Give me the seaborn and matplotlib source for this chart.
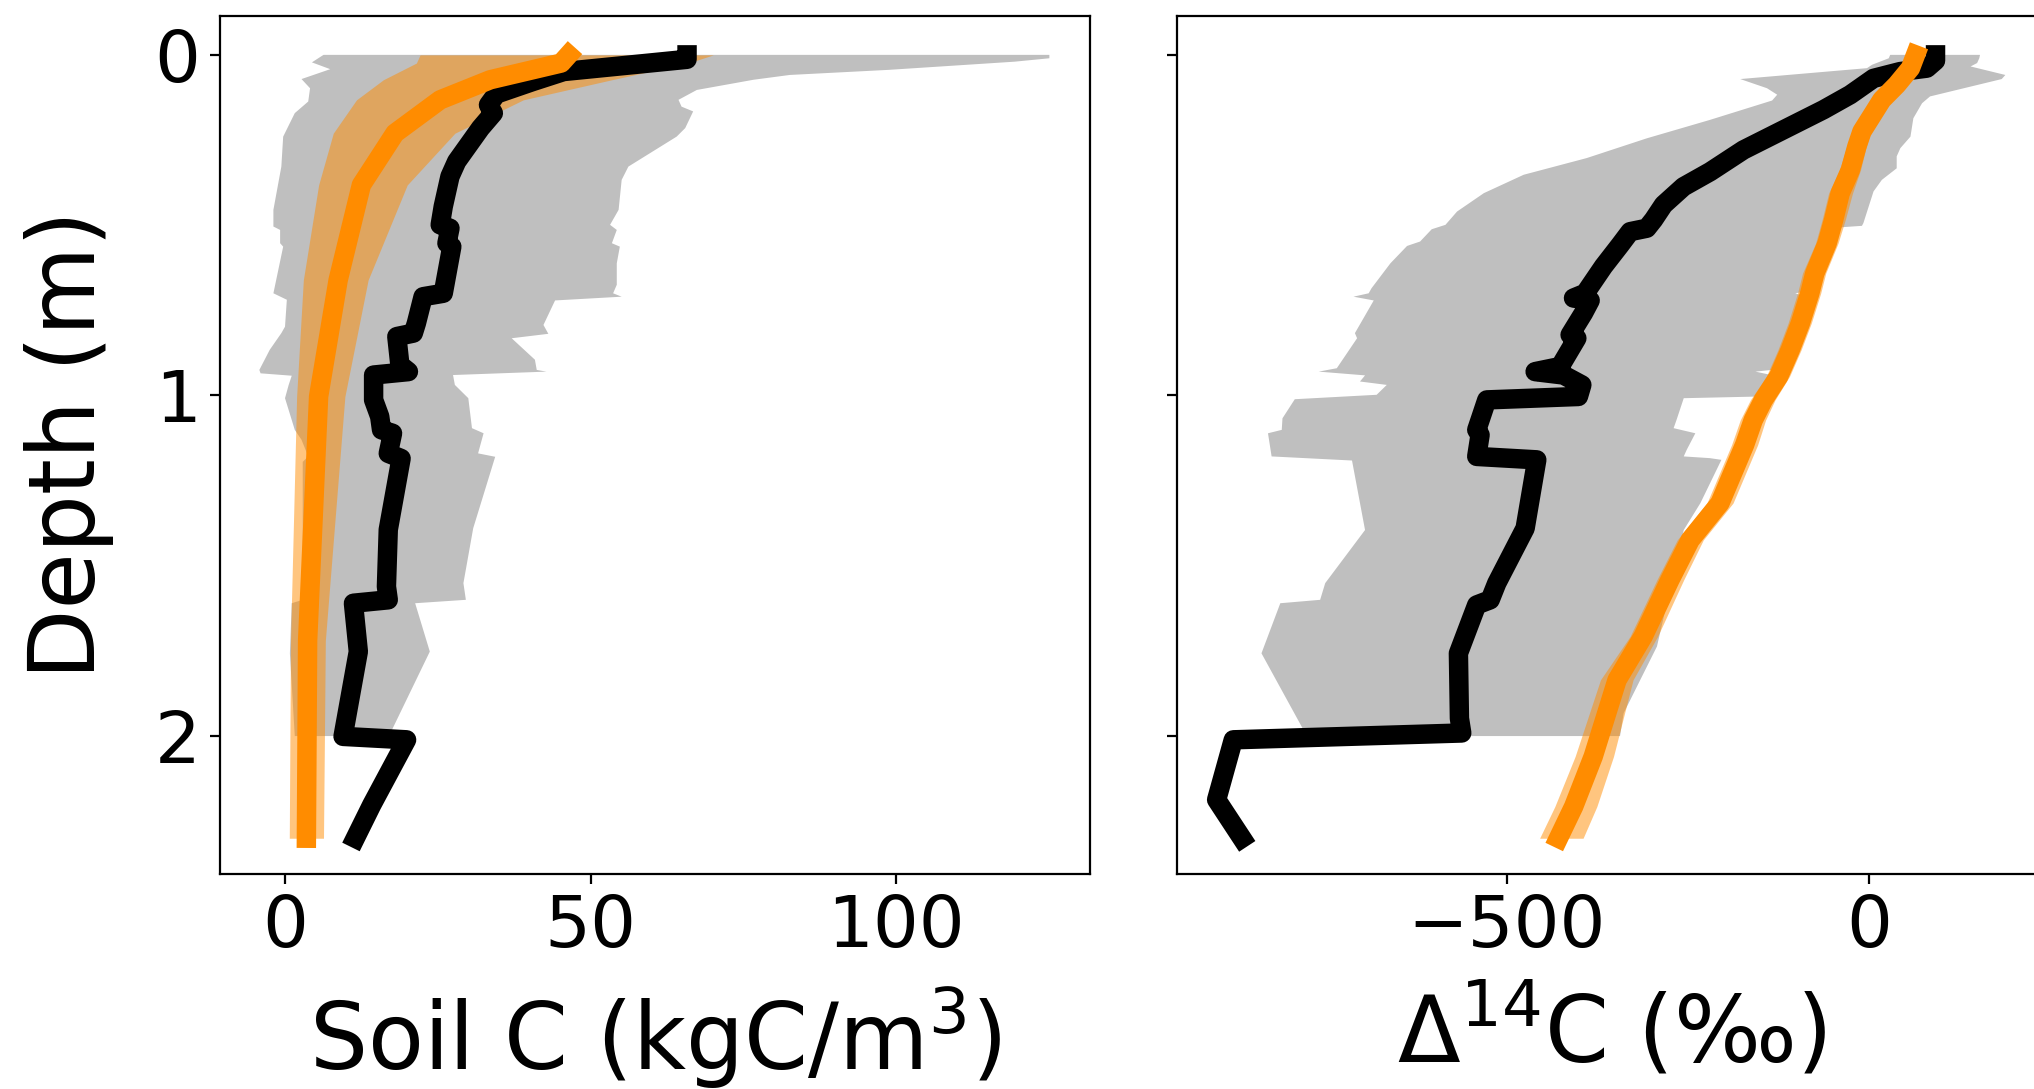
import numpy as np
import matplotlib
matplotlib.use("Agg")
import matplotlib.pyplot as plt
import seaborn as sns

# ------------------------------------------------------------------
# Soil carbon density profile (kgC/m3): (depth m, value)
# ------------------------------------------------------------------
soc_obs_lower = [
    (0.0, 6.3), (0.022, 4.4), (0.042, 7.4), (0.071, 2.7), (0.098, 4.1),
    (0.137, 3.8), (0.171, 1.6), (0.240, -0.3), (0.328, -0.6), (0.455, -1.9),
    (0.504, -1.9), (0.514, -0.8), (0.553, -0.8), (0.563, -0.3), (0.700, -1.9),
    (0.719, 0.3), (0.798, 0.0), (0.817, -0.6), (0.866, -2.5), (0.925, -4.2),
    (0.935, -4.0), (0.942, 1.1), (0.969, 0.6), (1.008, 0.0), (1.101, 1.6),
    (1.130, 2.7), (1.179, 3.8), (1.195, 2.9), (1.600, 2.9), (1.610, 1.1),
    (1.757, 0.8), (2.0, 1.6),
]
soc_obs_upper = [
    (0.0, 125.1), (0.010, 125.1), (0.020, 119.4), (0.044, 98.8), (0.059, 82.6),
    (0.073, 76.7), (0.103, 67.4), (0.132, 64.4), (0.152, 64.9), (0.166, 66.8),
    (0.215, 65.5), (0.240, 64.1), (0.328, 56.2), (0.367, 55.1), (0.455, 54.6),
    (0.499, 53.2), (0.514, 54.3), (0.553, 53.5), (0.563, 54.8), (0.612, 54.3),
    (0.675, 54.3), (0.700, 53.7), (0.710, 55.1), (0.721, 44.2), (0.793, 42.3),
    (0.819, 43.1), (0.832, 37.1), (0.895, 40.9), (0.925, 41.2), (0.930, 42.8),
    (0.940, 27.5), (0.969, 27.8), (1.008, 30.0), (1.096, 30.6), (1.111, 32.5),
    (1.170, 31.6), (1.180, 34.4), (1.390, 30.8), (1.551, 29.2), (1.600, 29.6),
    (1.610, 21.3), (1.752, 23.7), (1.982, 17.5), (2.0, 17.7),
]
soc_obs_mean = [
    (0.0, 65.8), (0.013, 65.8), (0.049, 45.6), (0.078, 40.6), (0.115, 34.6),
    (0.147, 33.3), (0.171, 34.1), (0.215, 32.0), (0.313, 28.1), (0.357, 27.0),
    (0.445, 25.9), (0.499, 25.4), (0.509, 27.0), (0.553, 26.5), (0.563, 27.3),
    (0.700, 25.9), (0.710, 22.6), (0.788, 21.5), (0.817, 21.0), (0.827, 18.3),
    (0.910, 18.8), (0.930, 20.2), (0.940, 14.5), (1.013, 14.5), (1.062, 15.5),
    (1.101, 15.8), (1.111, 17.6), (1.170, 16.9), (1.185, 19.0), (1.394, 16.9),
    (1.561, 16.6), (1.600, 16.9), (1.610, 11.2), (1.752, 12.0), (2.001, 9.5),
    (2.011, 19.9), (2.202, 14.2), (2.300, 11.5),
]
soc_mod_depth = [0.0, 0.024, 0.073, 0.132, 0.230, 0.382, 0.661, 1.003, 1.720, 2.300]
soc_mod_mean = [46.4, 45.2, 33.6, 25.4, 18.0, 12.5, 8.7, 5.5, 3.7, 3.5]
soc_mod_lower = [22.1, 21.5, 16.1, 11.7, 7.9, 5.5, 3.0, 1.9, 0.9, 0.7]
soc_mod_upper = [70.1, 66.0, 53.5, 39.0, 27.8, 20.0, 13.6, 9.8, 6.6, 6.3]

# ------------------------------------------------------------------
# Radiocarbon profile (per mil): (depth m, value)
# ------------------------------------------------------------------
c14_obs_lower = [
    (0.0, 29), (0.010, 27), (0.029, 4), (0.039, -3), (0.071, -178),
    (0.098, -141), (0.117, -127), (0.134, -134), (0.191, -220), (0.245, -307),
    (0.303, -390), (0.352, -477), (0.406, -532), (0.460, -569), (0.499, -585),
    (0.512, -604), (0.548, -620), (0.561, -638), (0.612, -661), (0.685, -687),
    (0.700, -691), (0.710, -712), (0.721, -684), (0.817, -710), (0.832, -707),
    (0.920, -735), (0.930, -760), (0.941, -696), (0.959, -703), (0.969, -666),
    (0.998, -680), (1.011, -793), (1.067, -810), (1.101, -811), (1.111, -830),
    (1.179, -825), (1.191, -714), (1.395, -696), (1.551, -751), (1.600, -758),
    (1.610, -813), (1.757, -839), (1.982, -781), (2.0, -779),
]
c14_obs_upper = [
    (0.0, 153), (0.010, 152), (0.024, 149), (0.034, 140), (0.059, 188),
    (0.071, 183), (0.122, 84), (0.142, 73), (0.186, 61), (0.240, 57),
    (0.274, 43), (0.298, 38), (0.333, 38), (0.367, 17.5), (0.401, 6),
    (0.494, -8), (0.502, -10), (0.506, -38), (0.600, -62), (0.695, -88),
    (0.700, -102), (0.710, -88), (0.800, -108), (0.925, -135), (0.930, -157),
    (0.940, -135), (1.003, -150), (1.008, -256), (1.072, -266), (1.096, -270),
    (1.111, -240), (1.160, -252), (1.179, -256), (1.184, -220), (1.189, -204),
    (1.316, -233), (1.395, -256), (1.737, -293), (1.933, -339), (2.0, -344),
]
c14_obs_mean = [
    (0.0, 91.6), (0.017, 91.6), (0.039, 79.7), (0.049, 42.8), (0.069, 6.0),
    (0.093, -10.1), (0.117, -26.2), (0.161, -63.1), (0.220, -118.3),
    (0.279, -173.5), (0.343, -219.5), (0.387, -256.3), (0.440, -283.9),
    (0.484, -297.7), (0.509, -307.0), (0.519, -330.0), (0.558, -343.8),
    (0.621, -366.8), (0.700, -392.1), (0.714, -408.2), (0.721, -385.2),
    (0.758, -394.4), (0.822, -412.9), (0.832, -403.6), (0.915, -426.7),
    (0.930, -461.2), (0.940, -422.1), (0.969, -396.7), (1.003, -401.4),
    (1.013, -527.9), (1.072, -537.2), (1.101, -541.8), (1.116, -537.2),
    (1.179, -541.8), (1.189, -458.9), (1.390, -475.0), (1.551, -514.1),
    (1.600, -523.3), (1.615, -541.8), (1.757, -567.1), (1.948, -565.7),
    (1.991, -562.5), (2.011, -877.9), (2.187, -900.9), (2.300, -866.0),
]
c14_mod_depth = [0.0, 0.039, 0.088, 0.132, 0.171, 0.225, 0.269, 0.338, 0.406,
                 0.484, 0.553, 0.641, 0.700, 0.788, 0.866, 0.944, 1.013, 1.072,
                 1.145, 1.316, 1.424, 1.541, 1.707, 1.835, 2.060, 2.207, 2.300]
c14_mod_mean = [64, 57, 38, 17.5, 6, -10, -17, -26, -40, -49, -58, -75, -82,
                -95, -109, -125, -146, -160, -172, -206, -247, -275, -312,
                -348, -381, -408, -429]
c14_mod_lower = [56, 49, 29, 7.5, -5, -23, -31, -41, -56, -65, -74, -92, -99,
                 -112, -126, -142, -164, -178, -190, -224, -265, -293, -330,
                 -371, -406, -434, -455]
c14_mod_upper = [72, 65, 47, 27.5, 17, 2, -4, -12, -23, -33, -43, -60, -67,
                 -80, -94, -110, -130, -143, -154, -188, -229, -256, -292,
                 -326, -353, -376, -395]

# ------------------------------------------------------------------
LINE_W = 7.0
TICK_FS = 26
LABEL_FS = 33

plt.rcParams["font.family"] = ["DejaVu Sans"]

fig = plt.figure(figsize=(10.17, 5.445), dpi=200)
ax1 = fig.add_axes([0.10816, 0.19743, 0.42758, 0.78815])
ax2 = fig.add_axes([0.57842, 0.19743, 0.42758, 0.78815])


def draw_profile(ax, obs_lower, obs_upper, obs_mean,
                 mod_depth, mod_lower, mod_upper, mod_mean):
    lo = np.array(obs_lower, dtype=float)
    hi = np.array(obs_upper, dtype=float)
    # observed spread as a closed polygon (lower edge down, upper edge up)
    ax.fill(np.concatenate([lo[:, 1], hi[::-1, 1]]),
            np.concatenate([lo[:, 0], hi[::-1, 0]]),
            color="gray", alpha=0.5, lw=0)
    # model spread
    ax.fill_betweenx(mod_depth, mod_lower, mod_upper,
                     color="darkorange", alpha=0.5, lw=0)
    om = np.array(obs_mean, dtype=float)
    sns.lineplot(x=om[:, 1], y=om[:, 0], ax=ax, sort=False, estimator=None,
                 orient="y", color="black", lw=LINE_W,
                 solid_capstyle="projecting", solid_joinstyle="round")
    sns.lineplot(x=mod_mean, y=mod_depth, ax=ax, sort=False, estimator=None,
                 orient="y", color="darkorange", lw=LINE_W,
                 solid_capstyle="projecting", solid_joinstyle="round")


draw_profile(ax1, soc_obs_lower, soc_obs_upper, soc_obs_mean,
             soc_mod_depth, soc_mod_lower, soc_mod_upper, soc_mod_mean)
draw_profile(ax2, c14_obs_lower, c14_obs_upper, c14_obs_mean,
             c14_mod_depth, c14_mod_lower, c14_mod_upper, c14_mod_mean)

for ax in (ax1, ax2):
    ax.set_ylim(2.405, -0.115)
    ax.set_yticks([0, 1, 2])
    ax.tick_params(labelsize=TICK_FS)

ax1.set_xlim(-10.64, 131.7)
ax1.set_xticks([0, 50, 100])
ax2.set_xlim(-956.3, 244.4)
ax2.set_xticks([-500, 0])
ax2.tick_params(labelleft=False)

ax1.set_xlabel("Soil C (kgC/m$^3$)", fontsize=LABEL_FS, labelpad=7.5)
ax1.set_ylabel("Depth (m)", fontsize=LABEL_FS, labelpad=14.5)
ax2.set_xlabel(r"$\Delta^{14}$C (‰)", fontsize=LABEL_FS, labelpad=7.5)
ax2.set_ylabel("")

fig.savefig("out.png", dpi=200)
